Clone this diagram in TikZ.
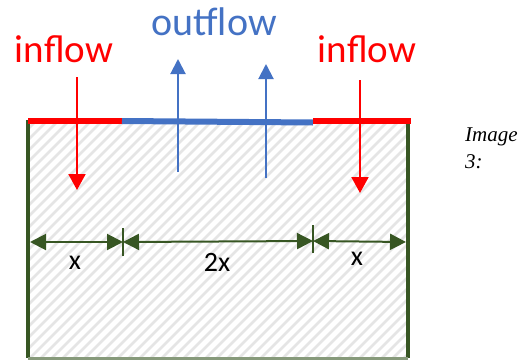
\documentclass[tikz,border=0pt]{standalone}
\usepackage{fontspec}
\setmainfont{Carlito}
\newfontfamily\capfont{Liberation Serif}
\usetikzlibrary{arrows.meta}
\definecolor{wallgreen}{HTML}{375623}
\definecolor{flowred}{HTML}{FF0000}
\definecolor{flowblue}{HTML}{4472C4}
\tikzset{
  inarrow/.style={draw=flowred, line width=2pt, -{Triangle[length=16pt,width=17pt]}},
  outarrow/.style={draw=flowblue, line width=2pt, -{Triangle[length=15pt,width=15pt]}},
  dimarrow/.style={draw=wallgreen, line width=2pt, {Triangle[length=16pt,width=16pt]}-{Triangle[length=16pt,width=16pt]}},
  wall/.style={draw=wallgreen, line width=4pt},
  lbl/.style={inner sep=0pt, anchor=base},
}
\begin{document}
\begin{tikzpicture}[x=1pt,y=-1pt]
\useasboundingbox (0,0) rectangle (528,362);
% hatch
\begin{scope}
  \clip (28,121) rectangle (408,358);
  \foreach \i in {-300,-289,...,420} {
    \draw[gray!20, line width=2.5pt] (\i,358) -- (\i+237,121);
  }
\end{scope}
% walls
\coordinate (tl) at (28,120);
\coordinate (tr) at (408,120);
\coordinate (bl) at (28,358);
\coordinate (br) at (408,358);
\draw[wall] (tl) -- (bl);
\draw[wall] (tr) -- (br);
\draw[draw=wallgreen!60, line width=3pt] (bl) -- (br);
% top boundary
\coordinate (s1) at (122,121);
\coordinate (s2) at (313,122.5);
\draw[flowred, line width=6pt] (28,121) -- (s1);
\draw[flowblue, line width=6pt] (s1) -- (s2);
\draw[flowred, line width=6pt] (313,121) -- (411,121);
% labels
\node[lbl, text=flowred, font=\fontsize{39}{39}\selectfont] (in1) at (64,62) {inflow};
\node[lbl, text=flowred, font=\fontsize{39}{39}\selectfont] (in2) at (367,62) {inflow};
\node[lbl, text=flowblue, font=\fontsize{40}{40}\selectfont] (out) at (214,35) {outflow};
% inflow arrows
\coordinate (a1s) at (77,77);  \coordinate (a1e) at (77,190);
\coordinate (a2s) at (360,80); \coordinate (a2e) at (360,193);
\draw[inarrow] (a1s) -- (a1e);
\draw[inarrow] (a2s) -- (a2e);
% outflow arrows
\coordinate (b1s) at (178,172); \coordinate (b1e) at (178,59);
\coordinate (b2s) at (266,178); \coordinate (b2e) at (266,64);
\draw[outarrow] (b1s) -- (b1e);
\draw[outarrow] (b2s) -- (b2e);
% dimensions
\coordinate (d0) at (30,242);
\coordinate (d1) at (123,242);
\coordinate (d2) at (313,241);
\coordinate (d3) at (406,242);
\draw[wallgreen, line width=2pt] (123,228) -- (123,256);
\draw[wallgreen, line width=2pt] (313,225) -- (313,253);
\draw[dimarrow] (d0) -- (d1);
\draw[dimarrow] (d1) -- (d2);
\draw[dimarrow] (d2) -- (d3);
\node[lbl, font=\fontsize{28}{28}\selectfont] (x1) at (75,269) {x};
\node[lbl, font=\fontsize{28}{28}\selectfont] (x2) at (217,271) {2x};
\node[lbl, font=\fontsize{28}{28}\selectfont] (x3) at (357,265) {x};
% caption
\node[anchor=base west, inner sep=0pt, font=\capfont\itshape\fontsize{21}{27}\selectfont, align=left] (cap) at (465,168) {Image\\3:};
\end{tikzpicture}
\end{document}
